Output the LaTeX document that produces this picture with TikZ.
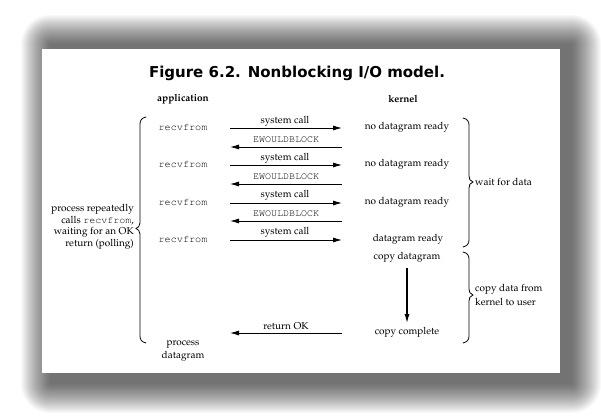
\documentclass[tikz,border=0pt]{standalone}
\usepackage[T1]{fontenc}
\usepackage{fontspec}
\usetikzlibrary{arrows.meta}
\newfontfamily\titlefont{DejaVu Sans}
\newcommand\palfont{\fontencoding{T1}\fontfamily{ppl}\selectfont}
\newcommand\cofont{\fontencoding{T1}\fontfamily{pcr}\selectfont}
\tikzset{
  pal/.style={font=\palfont\fontsize{10}{10}\selectfont, inner sep=0pt},
  palb/.style={font=\palfont\bfseries\fontsize{10}{10}\selectfont, inner sep=0pt},
  code/.style={font=\cofont\fontsize{10.2}{10}\selectfont, inner sep=0pt},
  codes/.style={font=\cofont\fontsize{10}{10}\selectfont, inner sep=0pt},
  msg/.style={line width=0.9pt, -{Latex[length=9pt,width=5pt]}},
  brace/.style={line width=0.8pt, line cap=round}
}
\begin{document}
\begin{tikzpicture}[x=1pt,y=-1pt]
\useasboundingbox (0,0) rectangle (601,415);
\fill[white] (0,0) rectangle (601,415);
% shadow
\foreach \i in {0,...,29}{
  \fill[black, opacity=0.022, rounded corners=\i pt] (50-\i,44-\i) rectangle (572+\i,384+\i);
}
% card
\fill[white] (42,49) rectangle (560,373);
% title
\node[inner sep=0pt, font=\titlefont\bfseries\fontsize{15}{15}\selectfont] (title) at (297,73) {Figure 6.2. Nonblocking I/O model.};
% headers
\node[palb] (app) at (183,99) {application};
\node[palb] (ker) at (403,99) {kernel};
% application column
\node[code] (r1) at (183,127) {recvfrom};
\node[code] (r2) at (183,164) {recvfrom};
\node[code] (r3) at (183,202) {recvfrom};
\node[code] (r4) at (183,239) {recvfrom};
\node[pal, align=center] (pd) at (183,351) {process\\[2pt]datagram};
% kernel column
\node[pal] (k1) at (407,127) {no datagram ready};
\node[pal] (k2) at (407,164) {no datagram ready};
\node[pal] (k3) at (407,202) {no datagram ready};
\node[pal] (k4) at (408,239) {datagram ready};
\node[pal] (cd) at (407,257) {copy datagram};
\node[pal] (cc) at (407,332) {copy complete};
% message coordinates
\coordinate (s1a) at (230,128); \coordinate (s1b) at (342,128);
\coordinate (e1a) at (342,147); \coordinate (e1b) at (230,147);
\coordinate (s2a) at (230,165); \coordinate (s2b) at (342,165);
\coordinate (e2a) at (342,184); \coordinate (e2b) at (230,184);
\coordinate (s3a) at (230,203); \coordinate (s3b) at (342,203);
\coordinate (e3a) at (342,221); \coordinate (e3b) at (230,221);
\coordinate (s4a) at (230,240); \coordinate (s4b) at (342,240);
\coordinate (oka) at (342,333); \coordinate (okb) at (230,333);
\draw[msg] (s1a) -- (s1b);
\draw[msg] (e1a) -- (e1b);
\draw[msg] (s2a) -- (s2b);
\draw[msg] (e2a) -- (e2b);
\draw[msg] (s3a) -- (s3b);
\draw[msg] (e3a) -- (e3b);
\draw[msg] (s4a) -- (s4b);
\draw[msg] (oka) -- (okb);
\node[pal] (ls1) at (285,121) {system call};
\node[pal] (ls2) at (285,158) {system call};
\node[pal] (ls3) at (285,195) {system call};
\node[pal] (ls4) at (285,232) {system call};
\node[codes] (le1) at (286,139.5) {EWOULDBLOCK};
\node[codes] (le2) at (286,176.5) {EWOULDBLOCK};
\node[codes] (le3) at (286,214) {EWOULDBLOCK};
\node[pal] (lok) at (286,326) {return OK};
% copy arrow
\coordinate (ca) at (407,268); \coordinate (cb) at (407,323);
\draw[line width=1.1pt, -{Latex[length=9pt,width=5pt]}] (ca) -- (cb);
% left brace
\draw[brace] (146,117) .. controls (142,118) and (140,120) .. (140,124)
  -- (140,223) .. controls (140,226) and (138,228) .. (136,228.5)
  .. controls (138,229) and (140,231) .. (140,234)
  -- (140,336) .. controls (140,340) and (142,342) .. (146,343);
\node[pal, align=right, anchor=east] (lt) at (134,227) {process repeatedly\\[1pt]calls {\cofont recvfrom},\\[1pt]waiting for an OK\\[1pt]return (polling)};
% right brace 1
\draw[brace] (463,118) .. controls (467,119) and (469,121) .. (469,125)
  -- (469,176) .. controls (469,179) and (470,181) .. (473,182)
  .. controls (470,183) and (469,185) .. (469,188)
  -- (469,240) .. controls (469,244) and (467,246) .. (463,247);
\node[pal, anchor=west] (wd) at (475,182) {wait for data};
% right brace 2
\draw[brace] (463,252) .. controls (467,253) and (469,255) .. (469,259)
  -- (469,289) .. controls (469,292) and (470,294) .. (473,295)
  .. controls (470,296) and (469,298) .. (469,301)
  -- (469,336) .. controls (469,340) and (467,342) .. (463,343);
\node[pal, align=left, anchor=west] (cp) at (475,295) {copy data from\\[2pt]kernel to user};
\end{tikzpicture}
\end{document}
